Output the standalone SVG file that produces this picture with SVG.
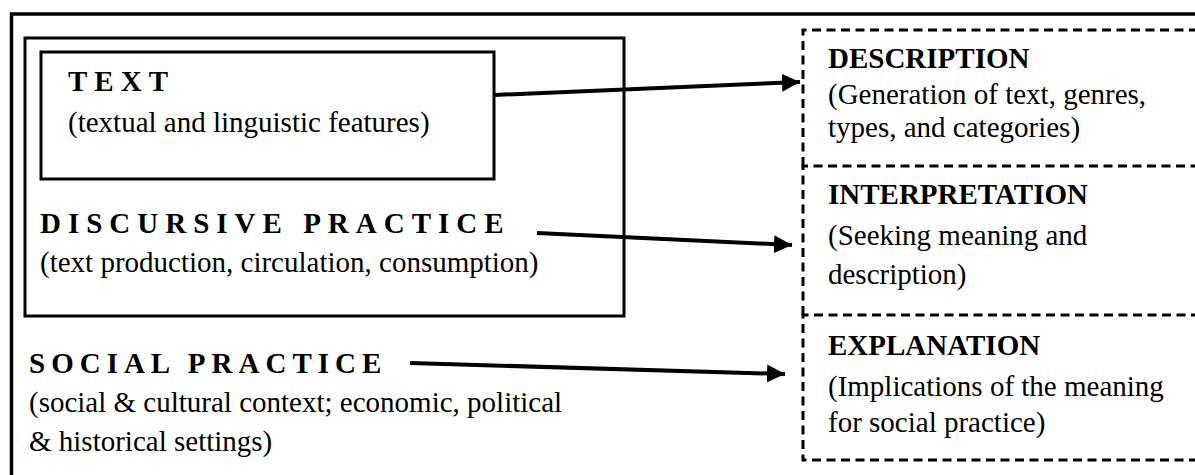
<svg xmlns="http://www.w3.org/2000/svg" width="1195" height="475" viewBox="0 0 1195 475">
  <style>
    .frame { fill: none; stroke: #000; stroke-width: 3.5; }
    .box { fill: none; stroke: #000; stroke-width: 3; }
    .dash { fill: none; stroke: #000; stroke-width: 3; stroke-dasharray: 9 5.5; }
    .head { font-family: "Liberation Serif", "Times New Roman", serif; font-weight: bold; font-size: 29px; fill: #000; }
    .spaced { letter-spacing: 7px; }
    .body { font-family: "Liberation Serif", "Times New Roman", serif; font-size: 29px; fill: #000; }
    .conn { stroke: #000; stroke-width: 4; fill: none; }
  </style>
  <defs>
    <marker id="arrow" viewBox="0 0 10 10" refX="10" refY="5" markerWidth="4.5" markerHeight="4.5" markerUnits="strokeWidth" orient="auto">
      <path d="M0,0 L10,5 L0,10 z" fill="#000"/>
    </marker>
  </defs>
  <rect width="1195" height="475" fill="#fff"/>

  <!-- outer frame running off the right and bottom edges -->
  <path class="frame" d="M11.5,480 L11.5,14 L1200,14"/>

  <g id="social-practice">
    <text class="head spaced" x="29" y="373" style="letter-spacing:6px">SOCIAL PRACTICE</text>
    <text class="body" x="29" y="412">(social &amp; cultural context; economic, political</text>
    <text class="body" x="29" y="451">&amp; historical settings)</text>
  </g>

  <g id="discursive-practice">
    <rect class="box" x="25" y="38" width="599" height="278"/>
    <text class="head spaced" x="40" y="233">DISCURSIVE PRACTICE</text>
    <text class="body" x="40" y="272">(text production, circulation, consumption)</text>
  </g>

  <g id="text">
    <rect class="box" x="41" y="52" width="453" height="127"/>
    <text class="head spaced" x="68" y="91">TEXT</text>
    <text class="body" x="68" y="132">(textual and linguistic features)</text>
  </g>

  <g id="description">
    <path class="dash" d="M803,166 L803,30 L1200,30"/>
    <text class="head" x="828" y="68">DESCRIPTION</text>
    <text class="body" x="828" y="104">(Generation of text, genres,</text>
    <text class="body" x="828" y="137">types, and categories)</text>
  </g>

  <g id="interpretation">
    <path class="dash" d="M803,315 L803,166 L1200,166"/>
    <text class="head" x="828" y="204">INTERPRETATION</text>
    <text class="body" x="828" y="245">(Seeking meaning and</text>
    <text class="body" x="828" y="284">description)</text>
  </g>

  <g id="explanation">
    <path class="dash" d="M1200,315 L803,315 L803,460 L1200,460"/>
    <text class="head" x="828" y="355">EXPLANATION</text>
    <text class="body" x="828" y="396">(Implications of the meaning</text>
    <text class="body" x="828" y="432">for social practice)</text>
  </g>

  <g id="connectors">
    <line class="conn" x1="494" y1="95" x2="800" y2="82" marker-end="url(#arrow)"/>
    <line class="conn" x1="537" y1="233" x2="792" y2="245" marker-end="url(#arrow)"/>
    <line class="conn" x1="410" y1="363" x2="785" y2="374" marker-end="url(#arrow)"/>
  </g>
</svg>
